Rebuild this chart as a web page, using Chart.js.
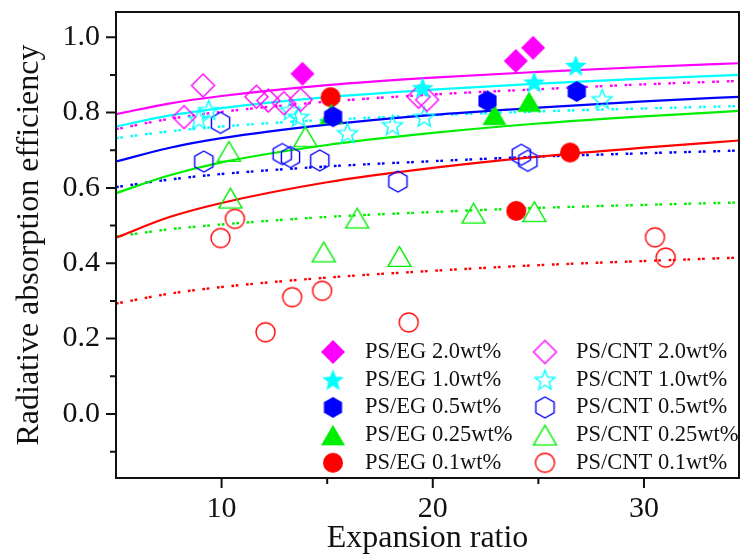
<!DOCTYPE html>
<html>
<head>
<meta charset="utf-8">
<script src="https://cdn.jsdelivr.net/npm/chart.js@4.4.0/dist/chart.umd.min.js"></script>
<style>
  html, body { margin: 0; padding: 0; background: #fff; }
</style>
</head>
<body>
<canvas id="absChart" width="740" height="558"></canvas>
<script>
// Точки: [коэффициент вспенивания, эффективность]
const eg20 = [[13.83, 0.903], [23.93, 0.937], [24.75, 0.972]];
const eg10 = [[19.52, 0.866], [24.8, 0.881], [26.77, 0.925]];
const eg05 = [[15.28, 0.789], [22.59, 0.831], [26.82, 0.856]];
const eg025 = [[15.2, 0.797], [22.92, 0.794], [24.56, 0.829]];
const eg01 = [[15.16, 0.841], [23.95, 0.539], [26.5, 0.694]];

const cnt20 = [[8.22, 0.788], [9.12, 0.872], [11.65, 0.842], [12.21, 0.832], [12.95, 0.825], [13.74, 0.834], [19.33, 0.842], [19.73, 0.834]];
const cnt10 = [[8.92, 0.783], [9.39, 0.807], [13.26, 0.807], [13.64, 0.789], [15.96, 0.746], [18.09, 0.767], [19.6, 0.789], [28.02, 0.836]];
const cnt05 = [[9.16, 0.670], [9.95, 0.773], [12.87, 0.690], [13.26, 0.682], [14.65, 0.673], [18.35, 0.617], [24.19, 0.688], [24.5, 0.672]];
const cnt025 = [[10.35, 0.697], [10.42, 0.573], [13.97, 0.736], [14.84, 0.430], [16.42, 0.520], [18.42, 0.418], [21.93, 0.533], [24.81, 0.537]];
const cnt01 = [[9.95, 0.467], [10.63, 0.518], [12.08, 0.217], [13.34, 0.310], [14.76, 0.327], [18.86, 0.243], [30.52, 0.469], [31.03, 0.415]];

// Кривые аппроксимации
const fitX = [5, 7.5, 10, 15, 20, 25, 30, 35];
const fitEG20 = [0.796, 0.824, 0.844, 0.873, 0.893, 0.908, 0.921, 0.932];
const fitEG10 = [0.763, 0.792, 0.812, 0.841, 0.861, 0.877, 0.890, 0.901];
const fitEG05 = [0.670, 0.706, 0.732, 0.768, 0.794, 0.813, 0.830, 0.843];
const fitEG025 = [0.586, 0.633, 0.668, 0.714, 0.746, 0.771, 0.790, 0.806];
const fitEG01 = [0.468, 0.522, 0.560, 0.615, 0.653, 0.683, 0.707, 0.728];
const fitCNT20 = [0.756, 0.783, 0.802, 0.829, 0.848, 0.862, 0.875, 0.885];
const fitCNT10 = [0.732, 0.750, 0.763, 0.781, 0.793, 0.803, 0.811, 0.818];
const fitCNT05 = [0.602, 0.622, 0.637, 0.657, 0.671, 0.683, 0.692, 0.700];
const fitCNT025 = [0.471, 0.490, 0.503, 0.523, 0.536, 0.547, 0.555, 0.562];
const fitCNT01 = [0.293, 0.319, 0.337, 0.362, 0.380, 0.395, 0.406, 0.416];

const xTicks = [10, 20, 30];
const xMinor = [15, 25];
const yTicks = [0.0, 0.2, 0.4, 0.6, 0.8, 1.0];
const yMinor = [-0.1, 0.1, 0.3, 0.5, 0.7, 0.9];

const FONT = "'Liberation Serif', 'Times New Roman', serif";

// Рисуем маркеры на отдельных канвасах
function marker(shape, color, filled, size) {
  var c = document.createElement("canvas");
  var s = Math.ceil(size) + 4;
  c.width = s;
  c.height = s;
  var g = c.getContext("2d");
  var m = s / 2, r = size / 2;
  g.beginPath();
  if (shape === "diamond") {
    g.moveTo(m, m - r); g.lineTo(m + r, m); g.lineTo(m, m + r); g.lineTo(m - r, m);
  } else if (shape === "star") {
    var cy = m + 0.095 * r;
    for (var i = 0; i < 10; i++) {
      var rr = i % 2 === 0 ? r : r * 0.43;
      var a = -Math.PI / 2 + i * Math.PI / 5;
      var px = m + rr * Math.cos(a), py = cy + rr * Math.sin(a);
      if (i === 0) g.moveTo(px, py); else g.lineTo(px, py);
    }
  } else if (shape === "hex") {
    for (var k = 0; k < 6; k++) {
      var b = -Math.PI / 2 + k * Math.PI / 3;
      var hx = m + r * Math.cos(b), hy = m + r * Math.sin(b);
      if (k === 0) g.moveTo(hx, hy); else g.lineTo(hx, hy);
    }
  } else if (shape === "tri") {
    var h = size * 0.86;
    g.moveTo(m, m - h / 2); g.lineTo(m + r, m + h / 2); g.lineTo(m - r, m + h / 2);
  } else {
    g.arc(m, m, r, 0, Math.PI * 2);
  }
  g.closePath();
  if (filled) {
    g.fillStyle = color;
    g.fill();
  } else {
    g.strokeStyle = color;
    g.lineWidth = 1.4;
    g.stroke();
  }
  return c;
}

const MAG = "#ff00ff", CYAN = "#00ffff", BLUE = "#0000ff", GREEN = "#00ee00", RED = "#ff0000";

const groups = [
  { label: "PS/EG 2.0wt%", pts: eg20, fit: fitEG20, color: MAG, img: marker("diamond", MAG, true, 24), dotted: false },
  { label: "PS/EG 1.0wt%", pts: eg10, fit: fitEG10, color: CYAN, img: marker("star", CYAN, true, 23), dotted: false },
  { label: "PS/EG 0.5wt%", pts: eg05, fit: fitEG05, color: BLUE, img: marker("hex", BLUE, true, 21), dotted: false },
  { label: "PS/EG 0.25wt%", pts: eg025, fit: fitEG025, color: GREEN, img: marker("tri", GREEN, true, 24), dotted: false },
  { label: "PS/EG 0.1wt%", pts: eg01, fit: fitEG01, color: RED, img: marker("circle", RED, true, 20), dotted: false },
  { label: "PS/CNT 2.0wt%", pts: cnt20, fit: fitCNT20, color: MAG, img: marker("diamond", MAG, false, 23), dotted: true },
  { label: "PS/CNT 1.0wt%", pts: cnt10, fit: fitCNT10, color: CYAN, img: marker("star", CYAN, false, 21), dotted: true },
  { label: "PS/CNT 0.5wt%", pts: cnt05, fit: fitCNT05, color: BLUE, img: marker("hex", BLUE, false, 21), dotted: true },
  { label: "PS/CNT 0.25wt%", pts: cnt025, fit: fitCNT025, color: GREEN, img: marker("tri", GREEN, false, 23), dotted: true },
  { label: "PS/CNT 0.1wt%", pts: cnt01, fit: fitCNT01, color: RED, img: marker("circle", RED, false, 19), dotted: true }
];

var datasets = [];
// сначала маркеры (в Chart.js первые наборы рисуются поверх)
groups.forEach(function (gr) {
  datasets.push({
    label: gr.label,
    data: gr.pts.map(function (p) { return { x: p[0], y: p[1] }; }),
    showLine: false,
    pointStyle: gr.img,
    pointRadius: 10,
    borderColor: gr.color,
    backgroundColor: gr.color
  });
});
groups.forEach(function (gr) {
  datasets.push({
    label: gr.label + " fit",
    data: fitX.map(function (x, i) { return { x: x, y: gr.fit[i] }; }),
    showLine: true,
    pointRadius: 0,
    borderColor: gr.color,
    borderWidth: gr.dotted ? 2.4 : 2.2,
    borderDash: gr.dotted ? [2.7, 1.6, 2.7, 7.6] : [],
    cubicInterpolationMode: "monotone",
    fill: false
  });
});

// Рамка, засечки и легенда
const framePlugin = {
  id: "frame",
  afterDatasetsDraw: function (chart) {
    var ctx = chart.ctx, a = chart.chartArea;
    var xs = chart.scales.x, ys = chart.scales.y;
    ctx.save();
    ctx.strokeStyle = "#111";
    ctx.lineWidth = 2;
    ctx.strokeRect(a.left, a.top, a.right - a.left, a.bottom - a.top);
    ctx.beginPath();
    yTicks.forEach(function (v) { var y = ys.getPixelForValue(v); ctx.moveTo(a.left - 10, y); ctx.lineTo(a.left, y); });
    yMinor.forEach(function (v) { var y = ys.getPixelForValue(v); ctx.moveTo(a.left - 6, y); ctx.lineTo(a.left, y); });
    xTicks.forEach(function (v) { var x = xs.getPixelForValue(v); ctx.moveTo(x, a.bottom); ctx.lineTo(x, a.bottom + 10); });
    xMinor.forEach(function (v) { var x = xs.getPixelForValue(v); ctx.moveTo(x, a.bottom); ctx.lineTo(x, a.bottom + 6); });
    ctx.stroke();
    ctx.restore();
  },
  afterDraw: function (chart) {
    var ctx = chart.ctx;
    ctx.save();
    ctx.font = "22.5px " + FONT;
    ctx.fillStyle = "#111";
    ctx.textBaseline = "middle";
    ctx.textAlign = "left";
    groups.forEach(function (gr, i) {
      var col = i < 5 ? 0 : 1;
      var row = i % 5;
      var mx = col === 0 ? 333 : 545;
      var tx = col === 0 ? 365 : 576;
      var y = 352 + row * 27.7;
      ctx.drawImage(gr.img, mx - gr.img.width / 2, y - gr.img.height / 2);
      ctx.fillText(gr.label, tx, y);
    });
    ctx.restore();
  }
};

var ctx = document.getElementById("absChart").getContext("2d");
var chart = new Chart(ctx, {
  type: "scatter",
  data: { datasets: datasets },
  options: {
    responsive: false,
    devicePixelRatio: 1,
    animation: false,
    layout: { autoPadding: false, padding: { top: 12, right: 1, left: 0, bottom: 0 } },
    plugins: { legend: { display: false }, tooltip: { enabled: false } },
    scales: {
      x: {
        type: "linear",
        min: 5,
        max: 34.5,
        afterFit: function (s) { s.height = 80; s.paddingLeft = 0; s.paddingRight = 0; },
        afterBuildTicks: function (s) { s.ticks = xTicks.map(function (v) { return { value: v }; }); },
        grid: { display: false, drawTicks: false },
        border: { display: false },
        ticks: { font: { family: FONT, size: 30 }, color: "#111", padding: 13, maxRotation: 0, autoSkip: false },
        title: { display: true, text: "Expansion ratio", font: { family: FONT, size: 32 }, color: "#111", padding: { top: 0, bottom: 0 } }
      },
      y: {
        type: "linear",
        min: -0.17,
        max: 1.067,
        afterFit: function (s) { s.width = 116; s.paddingTop = 0; s.paddingBottom = 0; },
        afterBuildTicks: function (s) { s.ticks = yTicks.map(function (v) { return { value: v }; }); },
        grid: { display: false, drawTicks: false },
        border: { display: false },
        ticks: {
          font: { family: FONT, size: 30 },
          color: "#111",
          padding: 16,
          autoSkip: false,
          callback: function (v) { return Number(v).toFixed(1); }
        },
        title: { display: true, text: "Radiative absorption efficiency", font: { family: FONT, size: 32 }, color: "#111", padding: { top: 10, bottom: 0 } }
      }
    }
  },
  plugins: [framePlugin]
});
</script>
</body>
</html>
